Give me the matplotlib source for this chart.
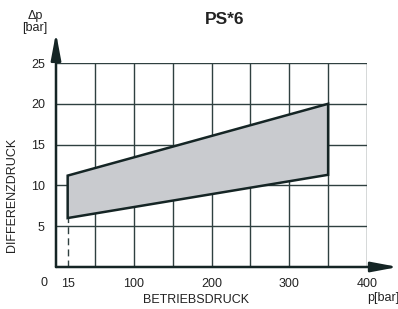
import matplotlib.pyplot as plt

plt.rcParams['font.family'] = ['Liberation Sans', 'DejaVu Sans']

# envelope of the working range
p_op = [15, 350, 350, 15]
dp = [6.0, 11.3, 20.0, 11.2]

x_ticks = [15, 100, 200, 300, 400]
y_ticks = [5, 10, 15, 20, 25]

W, H = 398, 309
fig = plt.figure(figsize=(W / 100, H / 100), dpi=100)
ax = fig.add_axes([56 / W, 1 - 267 / H, 311 / W, 204 / H])
ax.set_xlim(0, 400)
ax.set_ylim(0, 25)

grid = '#2f4040'
for x in range(50, 401, 50):
    ax.axvline(x, color=grid, lw=1.0, zorder=1)
for y in y_ticks:
    ax.axhline(y, color=grid, lw=1.0, zorder=1)

ax.fill(p_op, dp, facecolor='#c9cbcf', edgecolor='#152525', lw=1.8, zorder=3)
ax.plot([15, 15], [0, dp[0]], color='#2f4040', lw=1.0, ls=(0, (5, 3)), zorder=2)

for s in ax.spines.values():
    s.set_visible(False)
ax.set_xticks(x_ticks)
ax.set_yticks(y_ticks)
ax.tick_params(length=0, labelsize=9, colors='#222222', pad=8)

# axes with arrows
arrow = dict(arrowstyle='-|>,head_length=1.6,head_width=0.3',
             color='#152525', lw=1.8, shrinkA=0, shrinkB=0)
ax.annotate('', xy=(440, 0), xytext=(0, 0), annotation_clip=False, arrowprops=arrow)
ax.annotate('', xy=(0, 28.7), xytext=(0, 0), annotation_clip=False, arrowprops=arrow)

txt = '#222222'
fig.text(44 / W, 1 - 283 / H, '0', fontsize=9, color=txt, ha='center', va='center')
fig.text(35 / W, 1 - 22 / H, 'Δp\n[bar]', fontsize=9, color=txt,
         ha='center', va='center', linespacing=1.0)
fig.text(225 / W, 1 - 20 / H, 'PS*6', fontsize=12.5, fontweight='bold',
         color=txt, ha='center', va='center')
fig.text(12 / W, 1 - 195 / H, 'DIFFERENZDRUCK', fontsize=9, color=txt,
         rotation=90, ha='center', va='center')
fig.text(196 / W, 1 - 300 / H, 'BETRIEBSDRUCK', fontsize=9, color=txt,
         ha='center', va='center')
fig.text(383 / W, 1 - 298 / H, 'p[bar]', fontsize=9, color=txt,
         ha='center', va='center')

fig.savefig('out.png', dpi=100)
